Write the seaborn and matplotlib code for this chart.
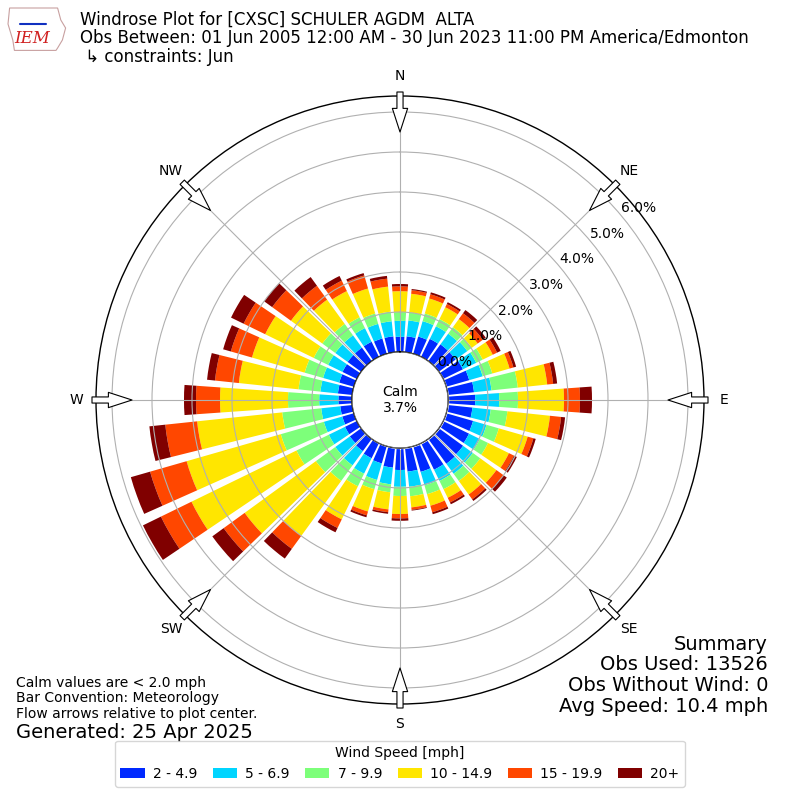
import numpy as np
import matplotlib
matplotlib.use('Agg')
import matplotlib.pyplot as plt
from matplotlib.patches import Patch, Polygon
import seaborn as sns

# direction bins (deg) and percent frequency per speed bin
directions = list(range(0, 360, 10))
speed_labels = ['2 - 4.9', '5 - 6.9', '7 - 9.9', '10 - 14.9', '15 - 19.9', '20+']

pct_2_5 = [0.38, 0.40, 0.45, 0.50, 0.52, 0.52, 0.55, 0.60, 0.66, 0.68, 0.62, 0.70,
           0.72, 0.75, 0.77, 0.74, 0.67, 0.60, 0.55, 0.50, 0.45, 0.42, 0.38, 0.35,
           0.33, 0.30, 0.30, 0.34, 0.36, 0.38, 0.40, 0.42, 0.42, 0.42, 0.40, 0.40]
pct_5_7 = [0.40, 0.40, 0.40, 0.35, 0.33, 0.36, 0.37, 0.35, 0.44, 0.60, 0.46, 0.35,
           0.30, 0.30, 0.31, 0.31, 0.35, 0.38, 0.42, 0.42, 0.43, 0.43, 0.44, 0.45,
           0.45, 0.48, 0.48, 0.48, 0.44, 0.42, 0.40, 0.38, 0.38, 0.38, 0.38, 0.38]
pct_7_10 = [0.22, 0.20, 0.20, 0.20, 0.20, 0.14, 0.18, 0.25, 0.66, 0.47, 0.42, 0.32,
            0.23, 0.23, 0.22, 0.23, 0.23, 0.24, 0.23, 0.20, 0.24, 0.35, 0.48, 0.60,
            0.90, 1.12, 0.98, 0.78, 0.55, 0.48, 0.40, 0.40, 0.35, 0.30, 0.27, 0.24]
pct_10_15 = [0.52, 0.47, 0.39, 0.33, 0.25, 0.18, 0.28, 0.45, 0.74, 1.15, 1.07, 0.75,
             0.58, 0.50, 0.42, 0.24, 0.30, 0.28, 0.45, 0.43, 0.58, 0.92, 1.70, 2.20,
             2.92, 2.45, 2.14, 1.70, 1.50, 1.37, 1.35, 0.97, 0.75, 0.73, 0.65, 0.63]
pct_15_20 = [0.12, 0.09, 0.11, 0.09, 0.18, 0.16, 0.12, 0.10, 0.15, 0.40, 0.28, 0.15,
             0.14, 0.22, 0.15, 0.13, 0.17, 0.06, 0.11, 0.07, 0.10, 0.24, 0.40, 0.65,
             0.85, 0.95, 0.80, 0.60, 0.60, 0.55, 0.60, 0.58, 0.43, 0.29, 0.34, 0.20]
pct_20 = [0.06, 0.03, 0.05, 0.05, 0.10, 0.09, 0.10, 0.07, 0.10, 0.30, 0.10, 0.06,
          0.08, 0.10, 0.05, 0.05, 0.05, 0.02, 0.06, 0.04, 0.05, 0.12, 0.30, 0.35,
          0.50, 0.50, 0.40, 0.30, 0.20, 0.20, 0.35, 0.25, 0.27, 0.13, 0.06, 0.07]

calm_pct = 3.7
compass = ['N', 'NE', 'E', 'SE', 'S', 'SW', 'W', 'NW']

sns.set_style('white')
plt.rcParams['font.family'] = ['DejaVu Sans']
plt.rcParams['text.color'] = 'black'
plt.rcParams['xtick.color'] = 'black'
plt.rcParams['ytick.color'] = 'black'

colors = plt.cm.jet(np.linspace(0, 1, 7)[1:])
series = [pct_2_5, pct_5_7, pct_7_10, pct_10_15, pct_15_20, pct_20]

fig = plt.figure(figsize=(8, 8), dpi=100)
ax = fig.add_axes([0.12, 0.12, 0.76, 0.76], projection='polar')
ax.set_theta_zero_location('N')
ax.set_theta_direction(-1)
ax.set_rorigin(-1.2)
ax.set_ylim(0, 6.4)

theta = np.deg2rad(directions)
width = np.deg2rad(8)
bottom = np.zeros(len(directions))
for vals, c in zip(series, colors):
    ax.bar(theta, vals, width=width, bottom=bottom, color=c, linewidth=0, zorder=1)
    bottom += np.array(vals)

# grid, drawn over the bars like the reference
ax.set_axisbelow(False)
ax.set_thetagrids(np.arange(0, 360, 45), [''] * 8)
ax.set_rgrids(np.arange(0, 7), ['%.1f%%' % v for v in range(7)], fontsize=10)
ax.set_rlabel_position(50)
ax.grid(True, color='#b0b0b0', linewidth=0.8)
ax.spines['polar'].set_color('black')
ax.spines['polar'].set_linewidth(1)

# calm circle
circ = np.linspace(0, 2 * np.pi, 200)
ax.fill_between(circ, -1.2, 0, color='white', zorder=3)
ax.plot(circ, np.zeros_like(circ), color='black', linewidth=1, zorder=4)
ax.text(0, -1.2, 'Calm\n%.1f%%' % calm_pct, ha='center', va='center',
        fontsize=10, zorder=5)

# compass labels and flow arrows
for i, name in enumerate(compass):
    t = np.deg2rad(i * 45)
    ax.text(t, 6.9, name, ha='center', va='center', fontsize=10, clip_on=False)
    ax.annotate('', xy=(t, 5.5), xytext=(t, 6.5), xycoords='data',
                arrowprops=dict(arrowstyle='simple,head_length=0.85,head_width=0.55,tail_width=0.22',
                                fc='white', ec='black', lw=0.8, shrinkA=0, shrinkB=0,
                                mutation_scale=20),
                annotation_clip=False, zorder=5)

# header with a rough IEM badge
badge = Polygon([(0.012, 0.99), (0.072, 0.99), (0.076, 0.975), (0.082, 0.965),
                 (0.078, 0.95), (0.072, 0.94), (0.07, 0.937), (0.018, 0.937),
                 (0.016, 0.95), (0.01, 0.97)], closed=True, transform=fig.transFigure,
                fc='none', ec='#c8a0a0', lw=0.8)
fig.patches.append(badge)
fig.add_artist(plt.Line2D([0.025, 0.058], [0.97, 0.97], color='#1030c0', lw=1.5,
                          transform=fig.transFigure))
fig.text(0.04, 0.952, 'IEM', color='#d02020', fontsize=12, style='italic',
         family='DejaVu Serif', ha='center', va='center')
fig.text(0.1, 0.986, 'Windrose Plot for [CXSC] SCHULER AGDM  ALTA\n'
         'Obs Between: 01 Jun 2005 12:00 AM - 30 Jun 2023 11:00 PM America/Edmonton\n'
         ' \u21b3 constraints: Jun', ha='left', va='top', fontsize=12,
         linespacing=1.02)

# footnotes
fig.text(0.02, 0.099, 'Calm values are < 2.0 mph\nBar Convention: Meteorology\n'
         'Flow arrows relative to plot center.', ha='left', va='bottom',
         fontsize=10, linespacing=1.15)
fig.text(0.02, 0.073, 'Generated: 25 Apr 2025', ha='left', va='bottom', fontsize=14)
fig.text(0.96, 0.105, 'Summary\nObs Used: 13526\nObs Without Wind: 0\n'
         'Avg Speed: 10.4 mph', ha='right', va='bottom', fontsize=14,
         linespacing=1.12)

handles = [Patch(facecolor=c, edgecolor='none') for c in colors]
fig.legend(handles, speed_labels, loc='lower center', bbox_to_anchor=(0.5, 0.008),
           ncol=6, title='Wind Speed [mph]', fontsize=10, title_fontsize=10,
           handlelength=1.75, handletextpad=0.6, columnspacing=1.1)

fig.savefig('out.png', dpi=100)
